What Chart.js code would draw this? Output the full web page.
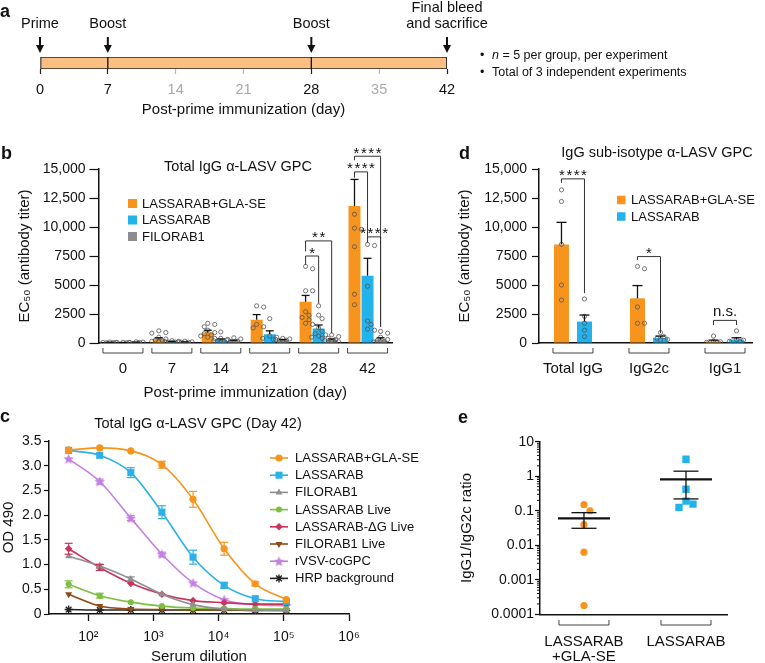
<!DOCTYPE html>
<html>
<head>
<meta charset="utf-8">
<script src="https://cdn.jsdelivr.net/npm/chart.js@4.4.1/dist/chart.umd.min.js"></script>
<style>
  html, body { margin: 0; padding: 0; background: #fff; overflow: hidden; }
  #page { position: relative; width: 765px; height: 663px; font-family: "Liberation Sans", Arial, Helvetica, sans-serif; color: #111; }
  canvas { position: absolute; }
  .lbl { position: absolute; font-weight: bold; font-size: 18px; line-height: 18px; }
  .note { position: absolute; font-size: 12.5px; line-height: 17px; white-space: nowrap; }
  .note span { display: inline-block; width: 12px; }
</style>
</head>
<body>
<div id="page">
  <canvas id="chartA" width="765" height="120" style="left:0;top:0"></canvas>
  <canvas id="chartB" width="440" height="274" style="left:0;top:128px"></canvas>
  <canvas id="chartD" width="325" height="274" style="left:440px;top:128px"></canvas>
  <canvas id="chartC" width="440" height="270" style="left:0;top:400px"></canvas>
  <canvas id="chartE" width="325" height="270" style="left:440px;top:400px"></canvas>

  <div class="lbl" style="left:0;top:2px">a</div>
  <div class="lbl" style="left:1px;top:144px">b</div>
  <div class="lbl" style="left:0;top:407px">c</div>
  <div class="lbl" style="left:459px;top:144px">d</div>
  <div class="lbl" style="left:458px;top:408px">e</div>

  <div class="note" style="left:480px;top:47px"><span>•</span><i>n</i> = 5 per group, per experiment</div>
  <div class="note" style="left:480px;top:64px"><span>•</span>Total of 3 independent experiments</div>
</div>

<script>
// ---- panel a: immunization schedule
const timelineDays = [0, 7, 14, 21, 28, 35, 42];
const keyDays = [0, 7, 28, 42];
const boostDays = [7, 28];
const eventDays = [0, 7, 28, 42];
const eventLabels = [['Prime'], ['Boost'], ['Boost'], ['Final bleed', 'and sacrifice']];

// ---- panel b: total IgG by day
const dayLabels = ['0', '7', '14', '21', '28', '42'];
const seriesNames = ['LASSARAB+GLA-SE', 'LASSARAB', 'FILORAB1'];
const adjMean = [50, 350, 900, 2000, 3550, 11800];
const adjSem = [20, 100, 200, 450, 550, 2300];
const lasMean = [40, 100, 250, 750, 1250, 5800];
const lasSem = [10, 30, 100, 300, 300, 1500];
const filoMean = [70, 80, 180, 250, 250, 300];
const filoSem = [15, 20, 60, 50, 100, 150];
const adjPts = [
  [80, 60, 50, 40, 30],
  [1050, 900, 850, 500, 350, 250, 200, 150, 100, 80],
  [1700, 1600, 1400, 1100, 900, 800, 700, 600, 500, 400],
  [3200, 3100, 1600, 1400, 1300],
  [6600, 6400, 4500, 4500, 2700, 2400, 2200, 2000, 1700, 1600],
  [11100, 9900, 9800, 8300, 4200, 3300]
];
const lasPts = [
  [60, 40, 30, 20],
  [200, 150, 100, 80, 60, 40],
  [950, 400, 300, 200, 150, 100, 60],
  [2100, 600, 500, 400, 300],
  [3200, 2400, 2100, 1300, 1000, 800, 700, 600, 500, 400],
  [8500, 8400, 4900, 1900, 1600, 1200, 1100]
];
const filoPts = [
  [100, 80, 60, 50],
  [150, 100, 80, 60, 50],
  [450, 350, 250, 150, 100, 60],
  [400, 350, 300, 250, 200, 150],
  [700, 550, 400, 300, 200, 150, 100, 80, 60],
  [1000, 850, 500, 300, 200, 120, 80]
];

// ---- panel d: IgG sub-isotypes
const isoLabels = ['Total IgG', 'IgG2c', 'IgG1'];
const isoAdjMean = [8500, 3850, 150];
const isoAdjSem = [1900, 1100, 100];
const isoLasMean = [1850, 450, 300];
const isoLasSem = [560, 150, 150];
const isoAdjPts = [[13200, 12200, 8500, 5000, 3700], [6600, 6400, 3100, 1700, 1700], [600, 150, 100, 60, 40]];
const isoLasPts = [[3800, 2300, 1700, 1100, 550], [900, 550, 400, 300, 250], [1050, 300, 250, 150, 100]];

// ---- panel c: dilution curves at day 42
const dilution = [50, 150, 450, 1350, 4050, 12150, 36450, 109350];
const dilTicks = [1e2, 1e3, 1e4, 1e5, 1e6];
const dilTickLabels = ['10²', '10³', '10⁴', '10⁵', '10⁶'];
const curveNames = ['LASSARAB+GLA-SE', 'LASSARAB', 'FILORAB1', 'LASSARAB Live', 'LASSARAB-ΔG Live', 'FILORAB1 Live', 'rVSV-coGPC', 'HRP background'];
const odAdj = [3.32, 3.36, 3.30, 3.02, 2.32, 1.32, 0.61, 0.29];
const odLas = [3.31, 3.21, 2.86, 2.06, 1.15, 0.58, 0.31, 0.25];
const odFilo = [1.17, 0.97, 0.71, 0.40, 0.19, 0.10, 0.08, 0.07];
const odLasLive = [0.60, 0.37, 0.24, 0.16, 0.12, 0.11, 0.10, 0.10];
const odDgLive = [1.32, 0.94, 0.62, 0.40, 0.27, 0.23, 0.20, 0.20];
const odFiloLive = [0.40, 0.16, 0.10, 0.09, 0.08, 0.08, 0.08, 0.08];
const odVsv = [3.14, 2.68, 1.94, 1.21, 0.63, 0.29, 0.19, 0.17];
const odHrp = [0.09, 0.08, 0.08, 0.08, 0.08, 0.08, 0.07, 0.07];
const odErr = [
  [0.02, 0.02, 0.03, 0.07, 0.16, 0.13, 0.04, 0.02],
  [0.02, 0.03, 0.10, 0.13, 0.14, 0.06, 0.02, 0.02],
  [0.03, 0.04, 0.04, 0.02, 0.02, 0.01, 0.01, 0.01],
  [0.07, 0.05, 0.03, 0.02, 0.01, 0.01, 0.01, 0.01],
  [0.11, 0.06, 0.03, 0.02, 0.02, 0.02, 0.01, 0.01],
  [0.03, 0.03, 0.02, 0.01, 0.01, 0.01, 0.01, 0.01],
  [0.03, 0.05, 0.05, 0.04, 0.03, 0.02, 0.02, 0.01],
  [0, 0, 0, 0, 0, 0, 0, 0]
];

// ---- panel e: IgG1/IgG2c ratio
const ratioGroups = [['LASSARAB', '+GLA-SE'], 'LASSARAB'];
const ratioAdj = [0.15, 0.10, 0.04, 0.0063, 0.00018];
const ratioLas = [3.1, 0.42, 0.19, 0.155, 0.125];
const ratioMean = [0.06, 0.81];
const ratioUpper = [0.088, 1.4];
const ratioLower = [0.031, 0.22];
const ratioTicks = [0.0001, 0.001, 0.01, 0.1, 1, 10];

const FONT = '"Liberation Sans", Arial, Helvetica, sans-serif';
const ORANGE = '#f7941e', BLUE = '#22b3ec', GREY = '#8d8d8d';

Chart.defaults.font.family = FONT;
Chart.defaults.color = '#111';
Chart.defaults.animation = false;
Chart.defaults.responsive = false;
Chart.defaults.plugins.legend.display = false;
Chart.defaults.plugins.tooltip.enabled = false;

const axisBorder = { color: '#111', width: 1.5 };

// spread overlapping dots sideways (beeswarm style)
function spread(values, toPx, pxPerX, minDist, step, maxSteps) {
  const placed = [];
  return values.map(v => {
    const py = toPx(v);
    const cands = [0];
    for (let i = 1; i <= maxSteps; i++) cands.push(i * step, -i * step);
    let best = 0, bestD = -1;
    for (const c of cands) {
      const d = placed.reduce((m, p) => Math.min(m, Math.hypot(p.x - c, p.y - py)), Infinity);
      if (d >= minDist) { best = c; break; }
      if (d > bestD) { bestD = d; best = c; }
    }
    placed.push({ x: best, y: py });
    return best / pxPerX;
  });
}

function dotsDataset(pts, shift, toPx, pxPerX) {
  const data = [];
  pts.forEach((vals, g) => {
    const offs = spread(vals, toPx, pxPerX, 4.4, 3.5, 2);
    vals.forEach((v, j) => data.push({ x: g + shift + offs[j], y: v }));
  });
  return {
    type: 'scatter', data, order: 1,
    pointRadius: 2.1, pointBorderWidth: 0.8,
    pointBorderColor: '#555', pointBackgroundColor: 'rgba(0,0,0,0)'
  };
}

function barDataset(means, color, catPct, barPct) {
  return {
    type: 'bar', order: 2,
    data: means.map((v, i) => ({ x: i, y: v })),
    backgroundColor: color,
    categoryPercentage: catPct, barPercentage: barPct
  };
}

function titerTick(v) {
  return v >= 10000 ? v.toLocaleString('en-US') : String(v);
}

function line(ctx, pts) {
  ctx.beginPath();
  pts.forEach((p, i) => i ? ctx.lineTo(p[0], p[1]) : ctx.moveTo(p[0], p[1]));
  ctx.stroke();
}

// error bars, group brackets, significance, title and legend for panels b and d
function barDecor(o) {
  return {
    id: 'barDecor',
    afterDatasetsDraw(chart) {
      const { ctx, chartArea: ca, scales: { x, y } } = chart;
      ctx.save();
      ctx.strokeStyle = '#111';
      ctx.lineWidth = 1.3;
      o.sems.forEach((sem, k) => {
        const ds = chart.data.datasets[k];
        chart.getDatasetMeta(k).data.forEach((bar, i) => {
          const top = y.getPixelForValue(ds.data[i].y + sem[i]);
          line(ctx, [[bar.x, bar.y], [bar.x, top]]);
          line(ctx, [[bar.x - o.cap / 2, top], [bar.x + o.cap / 2, top]]);
        });
      });

      ctx.strokeStyle = '#444';
      ctx.lineWidth = 1;
      x.ticks.forEach(t => {
        const cx = x.getPixelForValue(t.value), by = ca.bottom + 10;
        line(ctx, [[cx - o.half, by - 5], [cx - o.half, by], [cx + o.half, by], [cx + o.half, by - 5]]);
      });

      ctx.strokeStyle = '#333';
      ctx.fillStyle = '#111';
      ctx.textAlign = 'center';
      o.sig.forEach(s => {
        const xa = chart.getDatasetMeta(s.a).data[s.g].x;
        const xb = chart.getDatasetMeta(s.b).data[s.g].x;
        const yl = y.getPixelForValue(s.y);
        line(ctx, [[xa, y.getPixelForValue(s.ya)], [xa, yl], [xb, yl], [xb, y.getPixelForValue(s.yb)]]);
        ctx.font = '15px ' + FONT;
        ctx.textBaseline = 'alphabetic';
        if (s.text.startsWith('*')) {
          ctx.letterSpacing = '1.5px';
          ctx.fillText(s.text, (xa + xb) / 2 + 0.75, yl + 1.5);
        } else {
          ctx.letterSpacing = '0px';
          ctx.fillText(s.text, (xa + xb) / 2, yl - 4);
        }
      });
      ctx.letterSpacing = '0px';

      ctx.font = '14.5px ' + FONT;
      ctx.textBaseline = 'middle';
      ctx.fillText(o.title, o.titleX, o.titleY);

      ctx.font = '13px ' + FONT;
      ctx.textAlign = 'left';
      o.legend.forEach((name, k) => {
        const cy = o.legY + k * o.legGap;
        ctx.fillStyle = chart.data.datasets[k].backgroundColor;
        ctx.fillRect(o.legX, cy - o.sq / 2, o.sq, o.sq);
        ctx.fillStyle = '#111';
        ctx.fillText(name, o.legX + 14, cy + 0.5);
      });
      ctx.restore();
    }
  };
}

// ---------------- panel a
const timelinePlugin = {
  id: 'timelineMarks',
  afterDatasetsDraw(chart) {
    const { ctx, chartArea: ca, scales: { x } } = chart;
    ctx.save();
    ctx.strokeStyle = '#111';
    ctx.lineWidth = 1.3;
    boostDays.forEach(d => {
      const px = x.getPixelForValue(d);
      line(ctx, [[px, ca.top], [px, ca.bottom]]);
    });
    ctx.fillStyle = '#111';
    ctx.textAlign = 'center';
    ctx.textBaseline = 'alphabetic';
    ctx.font = '14.5px ' + FONT;
    eventDays.forEach((d, i) => {
      const px = x.getPixelForValue(d);
      ctx.lineWidth = 2;
      line(ctx, [[px, ca.top - 20], [px, ca.top - 11]]);
      ctx.beginPath();
      ctx.moveTo(px - 4, ca.top - 12);
      ctx.lineTo(px + 4, ca.top - 12);
      ctx.lineTo(px, ca.top - 4);
      ctx.closePath();
      ctx.fill();
      const lines = eventLabels[i];
      lines.forEach((t, j) => ctx.fillText(t, px, ca.top - 29 - (lines.length - 1 - j) * 16.5));
    });
    ctx.restore();
  }
};

new Chart(document.getElementById('chartA'), {
  type: 'bar',
  data: {
    labels: ['schedule'],
    datasets: [{
      data: [[0, 42]],
      backgroundColor: '#fbc081',
      borderColor: '#222',
      borderWidth: 1.2,
      borderSkipped: false,
      barPercentage: 1,
      categoryPercentage: 1
    }]
  },
  options: {
    indexAxis: 'y',
    layout: { padding: { left: 40, right: 318, top: 57, bottom: 0 } },
    scales: {
      x: {
        type: 'linear', min: 0, max: 42, offset: false,
        afterBuildTicks: s => { s.ticks = timelineDays.map(v => ({ value: v })); },
        grid: {
          drawOnChartArea: false, tickLength: 5, tickWidth: 1.2,
          tickColor: c => keyDays.includes(c.tick.value) ? '#222' : '#b8b8b8'
        },
        border: { display: false },
        ticks: {
          font: { size: 14.5 }, padding: 7, autoSkip: false, maxRotation: 0,
          color: c => keyDays.includes(c.tick.value) ? '#111' : '#a8a8a8'
        },
        title: { display: true, text: 'Post-prime immunization (day)', font: { size: 15 }, padding: { top: 0, bottom: 1 } },
        afterFit: s => { s.height = 51; }
      },
      y: { display: false }
    }
  },
  plugins: [timelinePlugin]
});

// ---------------- panel b
const bPxY = v => v * 174 / 15000;
new Chart(document.getElementById('chartB'), {
  type: 'bar',
  data: {
    datasets: [
      barDataset(adjMean, ORANGE, 0.8, 0.92),
      barDataset(lasMean, BLUE, 0.8, 0.92),
      barDataset(filoMean, GREY, 0.8, 0.92),
      dotsDataset(adjPts, -0.2667, bPxY, 48.9),
      dotsDataset(lasPts, 0, bPxY, 48.9),
      dotsDataset(filoPts, 0.2667, bPxY, 48.9)
    ]
  },
  options: {
    layout: { padding: { left: 0, right: 48, top: 41, bottom: 0 } },
    scales: {
      x: {
        type: 'linear', min: -0.5, max: 5.5, offset: false,
        afterBuildTicks: s => { s.ticks = dayLabels.map((d, i) => ({ value: i })); },
        ticks: { callback: v => dayLabels[v], font: { size: 15 }, padding: 9, autoSkip: false, maxRotation: 0 },
        grid: { display: false },
        border: axisBorder,
        title: { display: true, text: 'Post-prime immunization (day)', font: { size: 15 }, padding: { top: 0, bottom: 0 } },
        afterFit: s => { s.height = 59; }
      },
      y: {
        min: 0, max: 15000,
        ticks: { stepSize: 2500, callback: titerTick, font: { size: 14 }, padding: 4 },
        grid: { drawOnChartArea: false, tickLength: 9, tickColor: '#111', tickWidth: 1.2 },
        border: axisBorder,
        title: { display: true, text: 'EC₅₀ (antibody titer)', font: { size: 15 }, padding: { top: 16 } },
        afterFit: s => { s.width = 98.5; }
      }
    }
  },
  plugins: [barDecor({
    sems: [adjSem, lasSem, filoSem], cap: 8, half: 20,
    title: 'Total IgG α-LASV GPC', titleX: 238, titleY: 39,
    legend: seriesNames, legX: 128, legY: 75.5, legGap: 16.5, sq: 9,
    sig: [
      { g: 4, a: 0, b: 1, y: 7500, ya: 6750, yb: 3400, text: '*' },
      { g: 4, a: 0, b: 2, y: 8800, ya: 7900, yb: 850, text: '**' },
      { g: 5, a: 0, b: 2, y: 16100, ya: 15750, yb: 1400, text: '****' },
      { g: 5, a: 0, b: 1, y: 14750, ya: 14250, yb: 8650, text: '****' },
      { g: 5, a: 1, b: 2, y: 9150, ya: 8750, yb: 1400, text: '****' }
    ]
  })]
});

// ---------------- panel d
new Chart(document.getElementById('chartD'), {
  type: 'bar',
  data: {
    datasets: [
      barDataset(isoAdjMean, ORANGE, 0.605, 0.652),
      barDataset(isoLasMean, BLUE, 0.605, 0.652),
      dotsDataset(isoAdjPts, -0.1513, bPxY, 76),
      dotsDataset(isoLasPts, 0.1513, bPxY, 76)
    ]
  },
  options: {
    layout: { padding: { left: 0, right: 13, top: 41, bottom: 0 } },
    scales: {
      x: {
        type: 'linear', min: -0.447, max: 2.355, offset: false,
        afterBuildTicks: s => { s.ticks = isoLabels.map((d, i) => ({ value: i })); },
        ticks: { callback: v => isoLabels[v], font: { size: 15 }, padding: 9, autoSkip: false, maxRotation: 0 },
        grid: { display: false },
        border: axisBorder,
        afterFit: s => { s.height = 59; }
      },
      y: {
        min: 0, max: 15000,
        ticks: { stepSize: 2500, callback: titerTick, font: { size: 14 }, padding: 5 },
        grid: { drawOnChartArea: false, tickLength: 7, tickColor: '#111', tickWidth: 1.2 },
        border: axisBorder,
        title: { display: true, text: 'EC₅₀ (antibody titer)', font: { size: 15 }, padding: { top: 16 } },
        afterFit: s => { s.width = 99; }
      }
    }
  },
  plugins: [barDecor({
    sems: [isoAdjSem, isoLasSem], cap: 10, half: 20,
    title: 'IgG sub-isotype α-LASV GPC', titleX: 217, titleY: 25,
    legend: seriesNames.slice(0, 2), legX: 177, legY: 72, legGap: 16.5, sq: 8.5,
    sig: [
      { g: 0, a: 0, b: 1, y: 14150, ya: 13800, yb: 4300, text: '****' },
      { g: 1, a: 0, b: 1, y: 7450, ya: 7150, yb: 850, text: '*' },
      { g: 2, a: 0, b: 1, y: 1950, ya: 1550, yb: 1550, text: 'n.s.' }
    ]
  })]
});

// ---------------- panel c
function starImage(color, r) {
  const c = document.createElement('canvas');
  c.width = c.height = Math.ceil(r * 2 + 2);
  const g = c.getContext('2d');
  g.translate(c.width / 2, c.height / 2 + r * 0.1);
  g.beginPath();
  for (let i = 0; i < 10; i++) {
    const rad = i % 2 ? r * 0.45 : r;
    const a = -Math.PI / 2 + i * Math.PI / 5;
    g.lineTo(rad * Math.cos(a), rad * Math.sin(a));
  }
  g.closePath();
  g.fillStyle = color;
  g.fill();
  return c;
}

function curve(values, color, style, radius, extra) {
  return Object.assign({
    data: values.map((v, i) => ({ x: dilution[i], y: v })),
    borderColor: color, borderWidth: 1.6,
    pointStyle: style, pointRadius: radius,
    pointBackgroundColor: color, pointBorderColor: color, pointBorderWidth: 0,
    cubicInterpolationMode: 'monotone', fill: false
  }, extra || {});
}

const curvePlugin = {
  id: 'curveDecor',
  afterDatasetsDraw(chart) {
    const { ctx, scales: { y } } = chart;
    ctx.save();
    chart.data.datasets.forEach((ds, k) => {
      ctx.strokeStyle = ds.borderColor;
      ctx.lineWidth = 1.2;
      chart.getDatasetMeta(k).data.forEach((pt, i) => {
        const e = odErr[k][i];
        if (!e) return;
        const v = ds.data[i].y;
        const t = y.getPixelForValue(v + e), b = y.getPixelForValue(v - e);
        if (b - t < 3) return;
        line(ctx, [[pt.x, t], [pt.x, b]]);
        line(ctx, [[pt.x - 4, t], [pt.x + 4, t]]);
        line(ctx, [[pt.x - 4, b], [pt.x + 4, b]]);
      });
    });

    ctx.fillStyle = '#111';
    ctx.textAlign = 'center';
    ctx.textBaseline = 'middle';
    ctx.font = '14.5px ' + FONT;
    ctx.fillText('Total IgG α-LASV GPC (Day 42)', 198, 24);

    ctx.textAlign = 'left';
    ctx.font = '13px ' + FONT;
    chart.data.datasets.forEach((ds, k) => {
      const cy = 58 + k * 17.2;
      ctx.strokeStyle = ds.borderColor;
      ctx.lineWidth = 1.6;
      line(ctx, [[270, cy], [288, cy]]);
      ctx.fillStyle = ds.pointBackgroundColor;
      ctx.strokeStyle = ds.pointBorderColor;
      ctx.lineWidth = ds.pointBorderWidth || 0;
      if (Chart.helpers && Chart.helpers.drawPoint) {
        Chart.helpers.drawPoint(ctx, {
          pointStyle: ds.pointStyle, rotation: ds.pointRotation || 0,
          radius: ds.pointRadius, borderWidth: ds.pointBorderWidth || 0
        }, 279, cy);
      }
      ctx.fillStyle = '#111';
      ctx.fillText(curveNames[k], 295, cy + 0.5);
    });
    ctx.restore();
  }
};

new Chart(document.getElementById('chartC'), {
  type: 'line',
  data: {
    datasets: [
      curve(odAdj, ORANGE, 'circle', 3.6),
      curve(odLas, '#2cb0e8', 'rect', 5),
      curve(odFilo, '#8f8f8f', 'triangle', 4),
      curve(odLasLive, '#7cbf42', 'circle', 3),
      curve(odDgLive, '#c8345c', 'rectRot', 3.8),
      curve(odFiloLive, '#8e4a16', 'triangle', 4, { pointRotation: 180 }),
      curve(odVsv, '#c57fe0', starImage('#c57fe0', 5.5), 5),
      curve(odHrp, '#222', 'star', 4, { pointBorderWidth: 1.4 })
    ]
  },
  options: {
    layout: { padding: { left: 0, right: 91, top: 41, bottom: 0 } },
    scales: {
      x: {
        type: 'logarithmic', min: 25, max: 1e6,
        afterBuildTicks: s => { s.ticks = dilTicks.map(v => ({ value: v })); },
        ticks: { callback: (v, i) => dilTickLabels[i], font: { size: 14 }, padding: 8, autoSkip: false, maxRotation: 0 },
        grid: { drawOnChartArea: false, tickLength: 7, tickColor: '#111', tickWidth: 1.3 },
        border: axisBorder,
        title: { display: true, text: 'Serum dilution', font: { size: 15 }, padding: { top: 0, bottom: 4 } },
        afterFit: s => { s.height = 56; }
      },
      y: {
        min: 0, max: 3.5,
        ticks: { stepSize: 0.5, callback: v => v === 0 ? '0' : v.toFixed(1), font: { size: 14 }, padding: 2.5 },
        grid: { drawOnChartArea: false, tickLength: 5, tickColor: '#111', tickWidth: 1.2 },
        border: axisBorder,
        title: { display: true, text: 'OD 490', font: { size: 15 }, padding: { top: 0 } },
        afterFit: s => { s.width = 49; }
      }
    }
  },
  plugins: [curvePlugin]
});

// ---------------- panel e
const ePxY = v => Math.log10(v) * 34.5;
const offAdj = spread(ratioAdj, ePxY, 102, 7.5, 6, 2);
const offLas = spread(ratioLas, ePxY, 102, 7.5, 7, 2);

const ratioPlugin = {
  id: 'ratioDecor',
  afterDatasetsDraw(chart) {
    const { ctx, chartArea: ca, scales: { x, y } } = chart;
    ctx.save();
    ctx.strokeStyle = '#111';
    ctx.lineWidth = 1;
    for (let n = -4; n < 1; n++) {
      for (let k = 2; k < 10; k++) {
        const py = y.getPixelForValue(k * Math.pow(10, n));
        line(ctx, [[ca.left - 3, py], [ca.left, py]]);
      }
    }
    ratioMean.forEach((m, g) => {
      const cx = x.getPixelForValue(g);
      const my = y.getPixelForValue(m), uy = y.getPixelForValue(ratioUpper[g]), ly = y.getPixelForValue(ratioLower[g]);
      ctx.lineWidth = 1.3;
      line(ctx, [[cx, uy], [cx, ly]]);
      line(ctx, [[cx - 12.5, uy], [cx + 12.5, uy]]);
      line(ctx, [[cx - 12.5, ly], [cx + 12.5, ly]]);
      ctx.lineWidth = 2.4;
      line(ctx, [[cx - 26, my], [cx + 26, my]]);
    });
    ctx.strokeStyle = '#444';
    ctx.lineWidth = 1;
    x.ticks.forEach(t => {
      const cx = x.getPixelForValue(t.value), by = ca.bottom + 10.7;
      line(ctx, [[cx - 25, by - 5], [cx - 25, by], [cx + 25, by], [cx + 25, by - 5]]);
    });
    ctx.restore();
  }
};

new Chart(document.getElementById('chartE'), {
  type: 'scatter',
  data: {
    datasets: [
      {
        data: ratioAdj.map((v, j) => ({ x: 0 + offAdj[j], y: v })),
        pointStyle: 'circle', pointRadius: 3.6, pointBorderWidth: 0,
        pointBackgroundColor: ORANGE, order: 1
      },
      {
        data: ratioLas.map((v, j) => ({ x: 1 + offLas[j], y: v })),
        pointStyle: 'rect', pointRadius: 5.2, pointBorderWidth: 0,
        pointBackgroundColor: BLUE, order: 1
      }
    ]
  },
  options: {
    layout: { padding: { left: 0, right: 38, top: 41.7, bottom: 0 } },
    scales: {
      x: {
        type: 'linear', min: -0.431, max: 1.402,
        afterBuildTicks: s => { s.ticks = ratioGroups.map((d, i) => ({ value: i })); },
        ticks: { callback: v => ratioGroups[v], font: { size: 15, lineHeight: 1 }, padding: 12, autoSkip: false, maxRotation: 0 },
        grid: { display: false },
        border: axisBorder,
        afterFit: s => { s.height = 55.7; }
      },
      y: {
        type: 'logarithmic', min: 0.0001, max: 10,
        afterBuildTicks: s => { s.ticks = ratioTicks.map(v => ({ value: v })); },
        ticks: { callback: v => String(v), font: { size: 14 }, padding: 1, autoSkip: false },
        grid: { drawOnChartArea: false, tickLength: 5, tickColor: '#111', tickWidth: 1.2 },
        border: axisBorder,
        title: { display: true, text: 'IgG1/IgG2c ratio', font: { size: 15 }, padding: { top: 18 } },
        afterFit: s => { s.width = 100; }
      }
    }
  },
  plugins: [ratioPlugin]
});
</script>
</body>
</html>
